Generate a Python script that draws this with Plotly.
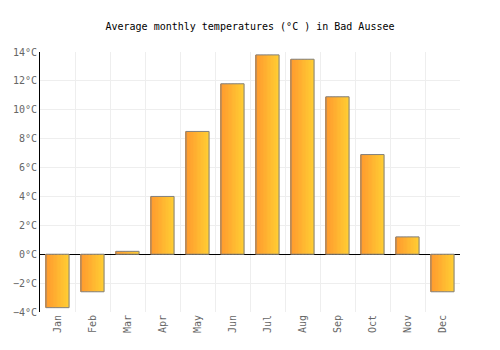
import plotly.graph_objects as go

months = ["Jan", "Feb", "Mar", "Apr", "May", "Jun", "Jul", "Aug", "Sep", "Oct", "Nov", "Dec"]
temps = [-3.7, -2.6, 0.2, 4.0, 8.5, 11.8, 13.8, 13.5, 10.9, 6.9, 1.2, -2.6]
title = "Average monthly temperatures (°C ) in Bad Aussee"

xs = list(range(len(months)))
bar_w = 0.66
n_slices = 16
c0 = (255, 154, 46)
c1 = (255, 204, 51)

fig = go.Figure()
sw = bar_w / n_slices
for k in range(n_slices):
    t = k / (n_slices - 1)
    col = "rgb(%d,%d,%d)" % tuple(round(a + (b - a) * t) for a, b in zip(c0, c1))
    fig.add_trace(go.Bar(
        x=xs, y=temps, width=sw * 1.15, offset=-bar_w / 2 + k * sw,
        marker=dict(color=col, line=dict(width=0)),
        hoverinfo="skip", showlegend=False,
    ))
fig.add_trace(go.Bar(
    x=xs, y=temps, width=bar_w,
    marker=dict(color="rgba(0,0,0,0)", line=dict(color="#808080", width=1)),
    showlegend=False,
))

font = "DejaVu Sans Mono"
fig.update_layout(
    width=500, height=350,
    margin=dict(l=40, r=40, t=52, b=38),
    barmode="overlay",
    paper_bgcolor="white", plot_bgcolor="white",
    title=dict(text=title, x=0.5, xanchor="center", y=1 - 26 / 350, yanchor="middle",
               font=dict(family=font, size=10, color="#000")),
    font=dict(family=font, size=10, color="#666"),
    xaxis=dict(
        range=[-0.5, 11.5], tickvals=xs, ticktext=months, tickangle=-90,
        showgrid=False, zeroline=False, showline=False, ticks="",
        minor=dict(tickvals=[i - 0.5 for i in range(13)], showgrid=True,
                   gridcolor="#eeeeee", gridwidth=1, ticks=""),
        tickfont=dict(family=font, size=10, color="#666"),
    ),
    yaxis=dict(
        range=[-4, 14], dtick=2, ticksuffix="°C",
        showgrid=True, gridcolor="#eeeeee", gridwidth=1,
        zeroline=True, zerolinecolor="#000", zerolinewidth=1,
        showline=True, linecolor="#000", linewidth=1, ticks="",
        tickfont=dict(family=font, size=10, color="#666"),
    ),
)

fig.write_html("out.html")
